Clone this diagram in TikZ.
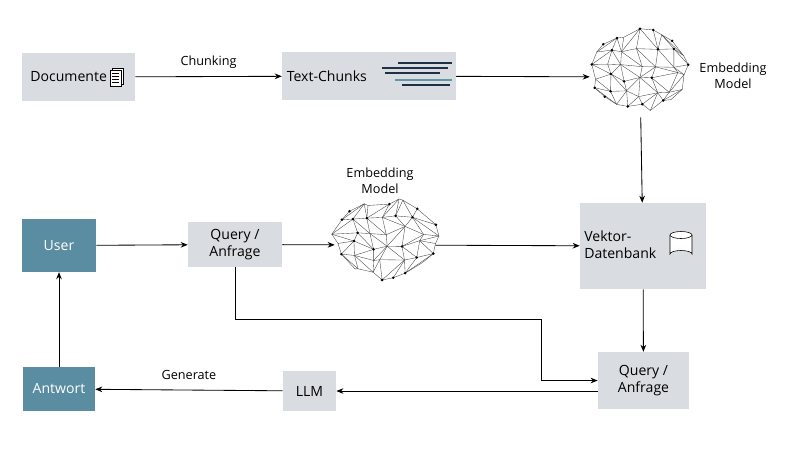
\documentclass[tikz,border=0pt]{standalone}
\usepackage{fontspec}
\setmainfont{Open Sans}
\usetikzlibrary{positioning,arrows.meta}
\definecolor{boxgray}{HTML}{D9DDE1}
\definecolor{userteal}{HTML}{5A8CA2}
\definecolor{chunknavy}{HTML}{1F2F45}
\definecolor{chunkteal}{HTML}{5F98A8}
\tikzset{
  box/.style={fill=boxgray, align=center, font=\fontsize{10}{12}\selectfont},
  ubox/.style={fill=userteal, text=white, align=center, font=\fontsize{10}{12}\selectfont},
  flow/.style={-{Stealth[length=5pt,width=4pt]}, semithick},
  lbl/.style={font=\fontsize{9}{11.5}\selectfont, align=center},
  net/.style={line width=0.25pt, black!75},
}
% mesh brain: name, centre
\newcommand\netbrain[2]{%
\begin{scope}[shift={#2}]
  \foreach \i in {0,...,6}{\foreach \j in {0,...,5}{
    \pgfmathsetmacro\u{(\i/3-1)+0.12*rand}
    \pgfmathsetmacro\v{(\j/2.5-1)+0.12*rand}
    \pgfmathsetmacro\px{50*\u*sqrt(1-\v*\v/2)}
    \pgfmathsetmacro\py{38*\v*sqrt(1-\u*\u/2)}
    \coordinate (#1-\i-\j) at (\px,\py);}}
  \foreach \i in {0,...,5}{\foreach \j in {0,...,5}{
    \pgfmathtruncatemacro\k{\i+1}
    \draw[net] (#1-\i-\j) -- (#1-\k-\j);}}
  \foreach \i in {0,...,6}{\foreach \j in {0,...,4}{
    \pgfmathtruncatemacro\k{\j+1}
    \draw[net] (#1-\i-\j) -- (#1-\i-\k);}}
  \foreach \i in {0,...,5}{\foreach \j in {0,...,4}{
    \pgfmathtruncatemacro\k{\i+1}\pgfmathtruncatemacro\l{\j+1}
    \pgfmathtruncatemacro\d{rnd<0.5}
    \ifnum\d=1 \draw[net] (#1-\i-\j) -- (#1-\k-\l);
    \else \draw[net] (#1-\k-\j) -- (#1-\i-\l); \fi}}
  \foreach \i in {0,...,6}{\foreach \j in {0,...,5}{
    \pgfmathtruncatemacro\d{rnd<0.4}
    \ifnum\d=1 \fill (#1-\i-\j) circle (1.4); \fi}}
\end{scope}}
\begin{document}
\begin{tikzpicture}[x=0.025cm, y=-0.025cm]
  \pgfmathsetseed{7}
  \useasboundingbox (0,0) rectangle (800,450);

  % top row
  \node[box, minimum width=2.83cm, minimum height=1.2cm] (doc) at (78.5,77) {Documente\hspace{1.4em}};
  \begin{scope}[shift={(118,77)}, line width=0.4pt]
    \draw[fill=white] (-6,-9) rectangle (5,7);
    \draw[fill=white] (-8,-7) rectangle (3,9);
    \foreach \yy in {-4,-1,2,5} \draw (-6,\yy) -- (1,\yy);
  \end{scope}
  \node[box, minimum width=4.3cm, minimum height=1.2cm] (chunks) at (369,76) {Text-Chunks\hspace{6em}};
  \begin{scope}[line width=1pt]
    \draw[chunknavy] (398,63) -- (452,63);
    \draw[chunknavy] (382,68) -- (448,68);
    \draw[chunknavy] (385,73) -- (440,73);
    \draw[chunkteal] (395,80) -- (452,80);
    \draw[chunknavy] (402,85) -- (450,85);
  \end{scope}
  \netbrain{ba}{(640,70)}
  \node[minimum width=2.5cm, minimum height=2cm] (emb1) at (640,77) {};
  \node[lbl] at (733,76) {Embedding\\Model};

  % middle row
  \node[box, minimum width=3.15cm, minimum height=2.15cm] (vdb) at (643,246) {};
  \node[box, align=left, anchor=west, inner sep=0pt] at (584,245) {Vektor-\\Datenbank};
  \begin{scope}[shift={(681,244)}]
    \draw[fill=white] (-11,-9) -- (-11,10) arc[start angle=180, end angle=360, x radius=11, y radius=3.5] -- (11,-9);
    \draw[fill=white] (0,-9) ellipse[x radius=11, y radius=3.5];
  \end{scope}
  \node[ubox, minimum width=1.85cm, minimum height=1.32cm] (user) at (59,245.5) {User};
  \node[box, minimum width=2.35cm, minimum height=1.12cm] (q1) at (235,244.5) {Query /\\Anfrage};
  \netbrain{bb}{(385,238)}
  \node[minimum width=2.5cm, minimum height=2cm] (emb2) at (385,245) {};
  \node[lbl] at (380,181) {Embedding\\Model};

  % bottom row
  \node[box, minimum width=2.28cm, minimum height=1.42cm] (q2) at (643.5,380.5) {Query /\\Anfrage};
  \node[box, minimum width=1.33cm, minimum height=1cm] (llm) at (309.5,391) {LLM};
  \node[ubox, minimum width=1.8cm, minimum height=1.1cm] (antw) at (59,389) {Antwort};
  \coordinate (bend) at (541,319);

  % connectors
  \draw[flow] (doc) -- node[lbl, above=2pt] {Chunking} (chunks);
  \draw[flow] (chunks) -- (emb1);
  \draw[flow] (emb1) -- (vdb);
  \draw[flow] (user) -- (q1);
  \draw[flow] (q1) -- (emb2);
  \draw[flow] (emb2) -- (vdb);
  \draw[flow] (vdb) -- (q2);
  \draw[flow] (q1.south) |- (bend) |- (q2.west);
  \draw[flow] (q2.west |- llm) -- (llm);
  \draw[flow] (llm) -- node[lbl, above=4pt] {Generate} (antw);
  \draw[flow] (antw) -- (user);
\end{tikzpicture}
\end{document}
